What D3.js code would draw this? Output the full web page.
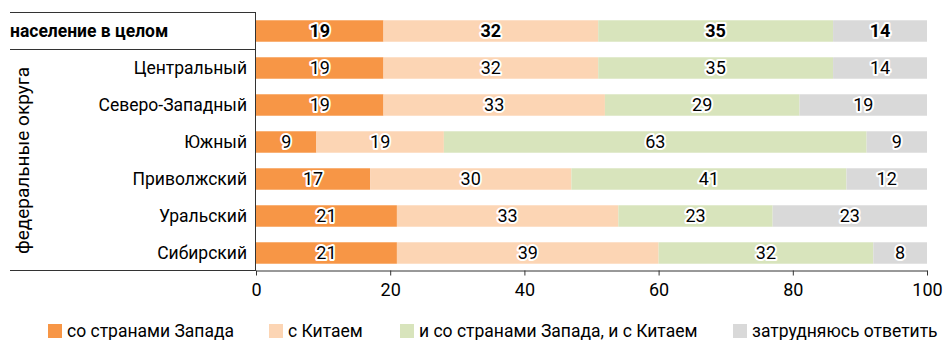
<!DOCTYPE html>
<html>
<head>
<meta charset="utf-8">
<script src="https://cdn.jsdelivr.net/npm/d3@7"></script>
<style>
  html, body { margin: 0; padding: 0; background: #fff; }
  svg { display: block; font-family: Roboto, "Noto Sans", sans-serif; }
  .val { paint-order: stroke; stroke: #fff; stroke-width: 4px; stroke-linejoin: round; }
</style>
</head>
<body>
<svg id="chart" width="943" height="340"></svg>
<script>
// Categories (top row is the whole population, the rest are federal districts)
const categories = ["население в целом", "Центральный", "Северо-Западный", "Южный", "Приволжский", "Уральский", "Сибирский"];
const seriesNames = ["со странами Запада", "с Китаем", "и со странами Запада, и с Китаем", "затрудняюсь ответить"];
const westValues  = [19, 19, 19, 9, 17, 21, 21];
const chinaValues = [32, 32, 33, 19, 30, 33, 39];
const bothValues  = [35, 35, 29, 63, 41, 23, 32];
const unsureValues = [14, 14, 19, 9, 12, 23, 8];
const tickValues = [0, 20, 40, 60, 80, 100];
const groupLabel = "федеральные округа";

const colors = ["#F79646", "#FCD5B4", "#D8E4BC", "#D9D9D9"];

const rows = categories.map((c, i) => ({
  cat: c,
  s0: westValues[i], s1: chinaValues[i], s2: bothValues[i], s3: unsureValues[i]
}));
const keys = ["s0", "s1", "s2", "s3"];
const stacked = d3.stack().keys(keys)(rows);

const svg = d3.select("#chart");
const plotLeft = 256, plotRight = 927, plotTop = 12.5, plotBottom = 271.5;

const x = d3.scaleLinear().domain([0, 100]).range([plotLeft, plotRight]);
const y = d3.scaleBand().domain(categories).range([plotTop, plotBottom]).paddingInner(0.42).paddingOuter(0.21);

// Bars
const layer = svg.append("g").selectAll("g").data(stacked).join("g")
  .attr("fill", (d, i) => colors[i]);
layer.selectAll("rect").data(d => d).join("rect")
  .attr("x", d => x(d[0]))
  .attr("y", d => y(d.data.cat))
  .attr("width", d => x(d[1]) - x(d[0]))
  .attr("height", y.bandwidth());

// Value labels
stacked.forEach(s => {
  svg.append("g").selectAll("text").data(s).join("text")
    .attr("class", "val")
    .attr("x", d => (x(d[0]) + x(d[1])) / 2)
    .attr("y", d => y(d.data.cat) + y.bandwidth() / 2)
    .attr("dy", "0.36em")
    .attr("text-anchor", "middle")
    .attr("font-size", 18)
    .attr("font-weight", d => d.data.cat === categories[0] ? "bold" : "normal")
    .attr("fill", "#000")
    .text(d => d[1] - d[0]);
});

// Left-side frame lines
const lineColor = "#333";
svg.append("line").attr("x1", 10).attr("x2", plotLeft).attr("y1", 12.5).attr("y2", 12.5)
  .attr("stroke", lineColor);
svg.append("line").attr("x1", 10).attr("x2", plotLeft).attr("y1", 49.5).attr("y2", 49.5)
  .attr("stroke", lineColor);
svg.append("line").attr("x1", plotLeft - 0.5).attr("x2", plotLeft - 0.5).attr("y1", 12).attr("y2", 271)
  .attr("stroke", lineColor);
svg.append("line").attr("x1", 10).attr("x2", plotLeft).attr("y1", 270.5).attr("y2", 270.5)
  .attr("stroke", lineColor);

// X axis
const axis = svg.append("g").attr("transform", `translate(0,270.5)`)
  .call(d3.axisBottom(x).tickValues(tickValues).tickSize(5).tickSizeOuter(0).tickPadding(8));
axis.select(".domain").attr("stroke", lineColor);
axis.selectAll(".tick line").attr("stroke", lineColor);
axis.selectAll(".tick text").attr("font-size", 18).attr("font-family", "Roboto, sans-serif").attr("fill", "#000");

// Category labels
svg.append("g").selectAll("text").data(categories).join("text")
  .attr("x", d => d === categories[0] ? 10 : 247)
  .attr("y", d => y(d) + y.bandwidth() / 2)
  .attr("dy", "0.36em")
  .attr("text-anchor", d => d === categories[0] ? "start" : "end")
  .attr("font-size", 17.5)
  .attr("font-weight", d => d === categories[0] ? "bold" : "normal")
  .text(d => d);

// Rotated group label
svg.append("text")
  .attr("transform", `translate(29,${(y(categories[1]) + y(categories[6]) + y.bandwidth()) / 2}) rotate(-90)`)
  .attr("text-anchor", "middle")
  .attr("font-size", 19)
  .text(groupLabel);

// Legend
const legendX = [48, 269, 400, 733];
const legend = svg.append("g").selectAll("g").data(seriesNames).join("g")
  .attr("transform", (d, i) => `translate(${legendX[i]},324)`);
legend.append("rect").attr("width", 14).attr("height", 14).attr("fill", (d, i) => colors[i]);
legend.append("text").attr("x", 19).attr("y", 7).attr("dy", "0.36em")
  .attr("font-size", 17.5).text(d => d);
</script>
</body>
</html>
